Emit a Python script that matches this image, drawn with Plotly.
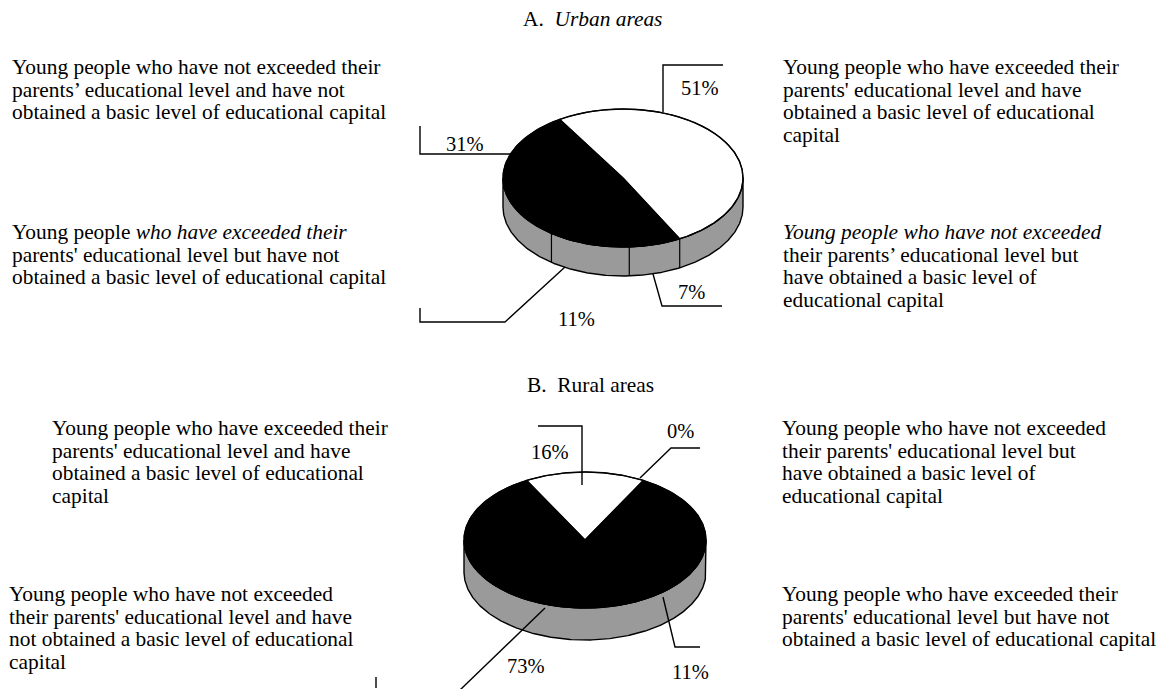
import numpy as np
import plotly.graph_objects as go

W, H = 1164, 689

# ---------------- data ----------------
categories = [
    "Exceeded parents' level, obtained basic capital",
    "Not exceeded parents' level, obtained basic capital",
    "Exceeded parents' level, not obtained basic capital",
    "Not exceeded parents' level, not obtained basic capital",
]
urban_values = [51, 7, 11, 31]
rural_values = [16, 0, 11, 73]
urban_pct_labels = ["51%", "7%", "11%", "31%"]
rural_pct_labels = ["16%", "0%", "11%", "73%"]
top_colors = ["#ffffff", "#000000", "#000000", "#000000"]
side_color = "#9a9a9a"

titles = ["A.  <i>Urban areas</i>", "B.  Rural areas"]

urban_text = {
    "tl": ["Young people who have not exceeded their",
           "parents\u2019 educational level and have not",
           "obtained a basic level of educational capital"],
    "bl": ["Young people <i>who have exceeded their</i>",
           "parents' educational level but have not",
           "obtained a basic level of educational capital"],
    "tr": ["Young people who have exceeded their",
           "parents' educational level and have",
           "obtained a basic level of educational",
           "capital"],
    "br": ["<i>Young people who have not exceeded</i>",
           "their parents\u2019 educational level but",
           "have obtained a basic level of",
           "educational capital"],
}
rural_text = {
    "tl": ["Young people who have exceeded their",
           "parents' educational level and have",
           "obtained a basic level of educational",
           "capital"],
    "bl": ["Young people who have not exceeded",
           "their parents' educational level and have",
           "not obtained a basic level of educational",
           "capital"],
    "tr": ["Young people who have not exceeded",
           "their parents' educational level but",
           "have obtained a basic level of",
           "educational capital"],
    "br": ["Young people who have exceeded their",
           "parents' educational level but have not",
           "obtained a basic level of educational capital"],
}

# ---------------- styles / layout positions ----------------
FONT = "Liberation Serif, Times New Roman, serif"
TXT = 21.4
LINE = 22.6

fig = go.Figure()


def ell(cx, cy, rx, ry, t):
    return cx + rx * np.cos(t), cy - ry * np.sin(t)


def pie3d(values, colors, cx, cy, rx, ry, depth, start_deg):
    total = float(sum(values))
    # side wall (front half)
    t = np.linspace(np.pi, 2 * np.pi, 240)
    xt, yt = ell(cx, cy, rx, ry, t)
    xs = np.concatenate([xt, xt[::-1], xt[:1]])
    ys = np.concatenate([yt, yt[::-1] + depth, yt[:1]])
    fig.add_trace(go.Scatter(x=xs, y=ys, mode="lines", fill="toself",
                             fillcolor=side_color, line=dict(color="black", width=1.4),
                             hoverinfo="skip", showlegend=False))
    # slice boundaries
    cum = 0.0
    bounds = []
    for v in values:
        a0 = np.deg2rad(start_deg - cum / total * 360.0)
        bounds.append(a0)
        cum += v
    for a in bounds:
        if np.sin(a) < -0.02:
            bx, by = ell(cx, cy, rx, ry, a)
            fig.add_trace(go.Scatter(x=[bx, bx], y=[by, by + depth], mode="lines",
                                     line=dict(color="black", width=1.2),
                                     hoverinfo="skip", showlegend=False))
    # top face slices
    cum = 0.0
    for v, c in zip(values, colors):
        if v > 0:
            a0 = np.deg2rad(start_deg - cum / total * 360.0)
            a1 = np.deg2rad(start_deg - (cum + v) / total * 360.0)
            tt = np.linspace(a0, a1, max(int(abs(a1 - a0) * 60), 4))
            ax, ay = ell(cx, cy, rx, ry, tt)
            px = np.concatenate([[cx], ax, [cx]])
            py = np.concatenate([[cy], ay, [cy]])
            fig.add_trace(go.Scatter(x=px, y=py, mode="lines", fill="toself",
                                     fillcolor=c, line=dict(color="black", width=1.2),
                                     hoverinfo="skip", showlegend=False))
        cum += v
    # top ellipse outline
    tt = np.linspace(0, 2 * np.pi, 400)
    ox, oy = ell(cx, cy, rx, ry, tt)
    fig.add_trace(go.Scatter(x=ox, y=oy, mode="lines", line=dict(color="black", width=1.4),
                             hoverinfo="skip", showlegend=False))


pie3d(urban_values, top_colors, 623, 178, 120, 69, 29, 121.8)
pie3d(rural_values, top_colors, 585, 540, 121, 68, 32, 118.8)

annotations = []


def add_block(lines, x, y0, spacing=LINE):
    for i, ln in enumerate(lines):
        annotations.append(dict(x=x, y=y0 + i * spacing, xref="x", yref="y", text=ln,
                                showarrow=False, xanchor="left", yanchor="middle",
                                font=dict(family=FONT, size=TXT, color="black")))


add_block(urban_text["tl"], 10, 67)
add_block(urban_text["bl"], 10, 232)
add_block(urban_text["tr"], 781, 67)
add_block(urban_text["br"], 781, 232)
add_block(rural_text["tl"], 50, 428)
add_block(rural_text["bl"], 7, 594)
add_block(rural_text["tr"], 780, 428)
add_block(rural_text["br"], 780, 594)

# titles
for txt, (x, y) in zip(titles, [(592, 19), (590, 385)]):
    annotations.append(dict(x=x, y=y, xref="x", yref="y", text=txt, showarrow=False,
                            xanchor="center", yanchor="middle",
                            font=dict(family=FONT, size=TXT, color="black")))

# percentage labels
urban_label_pos = [(700, 88), (691, 292), (576, 319), (465, 144)]
rural_label_pos = [(550, 452), (680, 431), (690, 672), (526, 666)]
for labs, poss in [(urban_pct_labels, urban_label_pos), (rural_pct_labels, rural_label_pos)]:
    for lab, (x, y) in zip(labs, poss):
        annotations.append(dict(x=x, y=y, xref="x", yref="y", text=lab, showarrow=False,
                                xanchor="center", yanchor="middle",
                                font=dict(family=FONT, size=20.5, color="black")))

# leader lines
leaders = [
    [(663, 112), (663, 65), (723, 65)],
    [(510, 154), (420, 154), (420, 126)],
    [(653, 274), (662, 306), (722, 306)],
    [(565, 267), (505, 322), (420, 322), (420, 308)],
    [(582, 485), (582, 426), (538, 426)],
    [(640, 478), (671, 448), (700, 448)],
    [(663, 597), (675, 647), (700, 647)],
    [(545, 608), (460, 690)],
    [(376, 677), (376, 688)],
]
shapes = []
for pts in leaders:
    path = "M " + " L ".join(f"{x},{y}" for x, y in pts)
    shapes.append(dict(type="path", path=path, xref="x", yref="y",
                       line=dict(color="black", width=1.4)))

fig.update_layout(
    width=W, height=H,
    margin=dict(l=0, r=0, t=0, b=0),
    paper_bgcolor="white", plot_bgcolor="white",
    xaxis=dict(range=[0, W], visible=False, fixedrange=True),
    yaxis=dict(range=[H, 0], visible=False, fixedrange=True),
    annotations=annotations, shapes=shapes, showlegend=False,
)

fig.write_html("out.html")
